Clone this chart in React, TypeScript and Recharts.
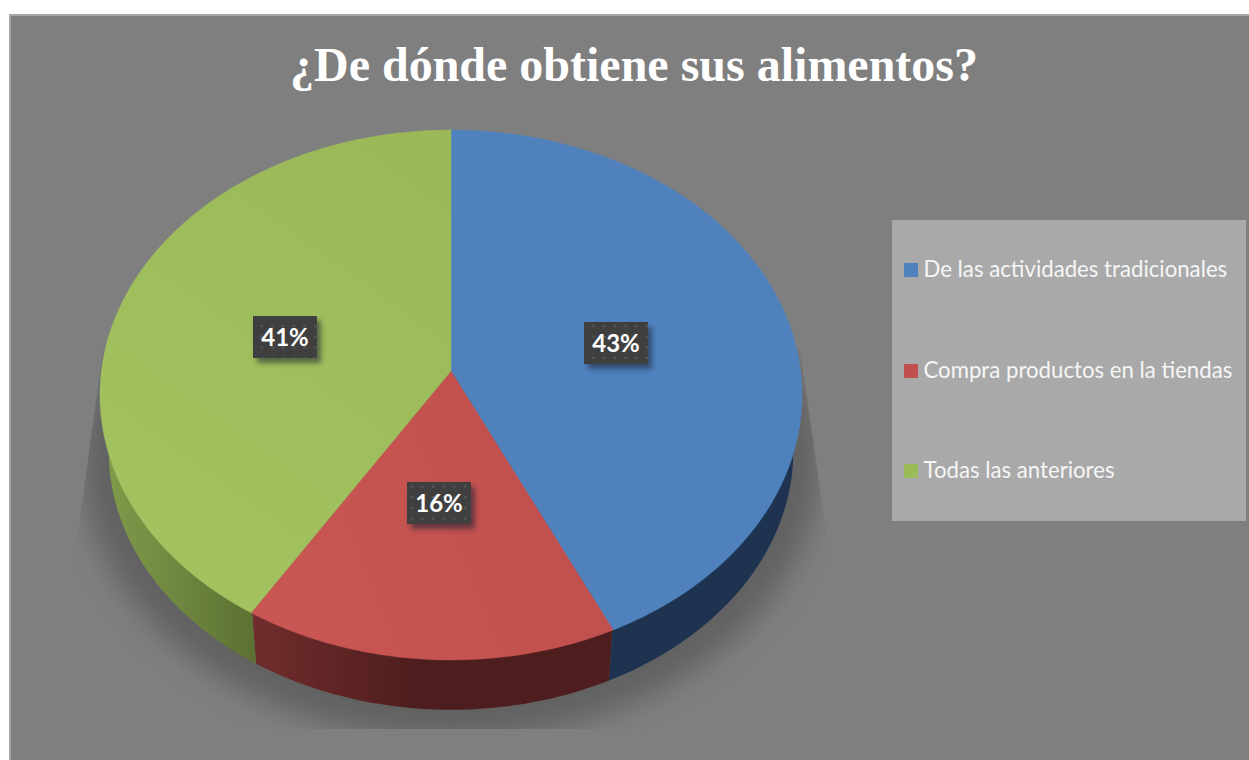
import React from "react";
import { PieChart, Pie, Legend } from "recharts";

const categories = ["De las actividades tradicionales", "Compra productos en la tiendas", "Todas las anteriores"];
const shares = [43, 15.85, 41.15];
const faceFills = ["url(#faceBlue)", "url(#faceRed)", "url(#faceGreen)"];
const sideFills = ["#1e3350", "url(#sideRed)", "url(#sideGreen)"];
const legendColors = ["#4f81bd", "#c0504d", "#9bbb59"];
const labelOffsets = [[165, -28], [-12, 132], [-166, -34]];

const chartData = categories.map((name, i) => ({ name, value: shares[i], face: faceFills[i], side: sideFills[i] }));

const CX = 451;
const CY = 371;
const RX = 349.6;
const RY = 262.8;
const K = 0.0906;
const DEPTH = 57;
const BOTTOM_SCALE = 0.975;

function project(deg: number, cy: number, scale: number): [number, number] {
  const a = (deg * Math.PI) / 180;
  const u = Math.cos(a);
  const v = -Math.sin(a);
  const w = 1 - K * v;
  return [CX + (scale * RX * u) / w, cy + (scale * RY * v) / w];
}

function arc(start: number, end: number, cy: number, scale: number): string[] {
  const n = Math.max(2, Math.ceil(Math.abs(end - start)));
  const pts: string[] = [];
  for (let i = 0; i <= n; i++) {
    const p = project(start + ((end - start) * i) / n, cy, scale);
    pts.push(`${p[0].toFixed(2)} ${p[1].toFixed(2)}`);
  }
  return pts;
}

function FaceShape(props: any) {
  const { startAngle, endAngle, payload } = props;
  const d = `M${CX} ${CY}L${arc(startAngle, endAngle, CY, 1).join("L")}Z`;
  const fill = payload?.face ?? props.face;
  return <path d={d} fill={fill} stroke={fill} strokeWidth={0.4} />;
}

function SideShape(props: any) {
  const { startAngle, endAngle, payload } = props;
  const top = arc(startAngle, endAngle, CY, 0.995);
  const bottom = arc(endAngle, startAngle, CY + DEPTH, BOTTOM_SCALE);
  const fill = payload?.side ?? props.side;
  return <path d={`M${top.join("L")}L${bottom.join("L")}Z`} fill={fill} />;
}

function DataLabel(props: any) {
  const { index, percent } = props;
  const [dx, dy] = labelOffsets[index];
  const x = CX + dx;
  const y = CY + dy;
  return (
    <g>
      <rect x={x - 32} y={y - 21} width={64} height={42} fill="#1c2430" opacity={0.55} transform="translate(4 5)" filter="url(#labelBlur)" />
      <rect x={x - 32} y={y - 21} width={64} height={42} fill="url(#labelDots)" />
      <text x={x} y={y + 9} textAnchor="middle" fontFamily="Lato" fontWeight={700} fontSize={24} fill="#ffffff">
        {`${Math.round(percent * 100)}%`}
      </text>
    </g>
  );
}

function LegendBox(props: any) {
  const items = props.payload ?? [];
  const names = categories.filter((name) => items.some((item: any) => item.value === name));
  return (
    <div style={{ position: "relative", width: 354, height: 301, background: "#a9a9a9" }}>
      {names.map((name: string, i: number) => (
        <div key={name} style={{ position: "absolute", left: 12, top: 43 + i * 100.5, height: 14 }}>
          <span style={{ position: "absolute", left: 0, top: 0, width: 14, height: 14, background: legendColors[i] }} />
          <span style={{ position: "absolute", left: 19.5, top: -7, lineHeight: "26px", fontFamily: "Lato", fontSize: 22.2, color: "#f6f6f6", whiteSpace: "nowrap" }}>{name}</span>
        </div>
      ))}
    </div>
  );
}

const shadowPath = `M${arc(0, 360, CY + 64, 1.05).join("L")}Z`;

export default function App() {
  return (
    <div style={{ position: "absolute", left: 0, top: 0, width: 1249, height: 760, background: "#ffffff", overflow: "hidden" }}>
      <div style={{ position: "absolute", left: 9, top: 14, right: 0, bottom: 0, background: "#7f7f7f", borderLeft: "2px solid #a6a6a6", borderTop: "2px solid #a6a6a6" }} />
      <div style={{ position: "absolute", left: 0, top: 0 }}>
        <PieChart width={1249} height={760} margin={{ top: 0, right: 0, bottom: 0, left: 0 }}>
          <defs>
            <linearGradient id="sideRed" gradientUnits="userSpaceOnUse" x1={257} y1={0} x2={420} y2={0}>
              <stop offset="0" stopColor="#702c2c" />
              <stop offset="1" stopColor="#4e1d1d" />
            </linearGradient>
            <linearGradient id="sideGreen" gradientUnits="userSpaceOnUse" x1={108} y1={0} x2={257} y2={0}>
              <stop offset="0" stopColor="#7f9b4a" />
              <stop offset="1" stopColor="#5c7033" />
            </linearGradient>
            <linearGradient id="faceBlue" gradientUnits="userSpaceOnUse" x1={451} y1={130} x2={451} y2={640}>
              <stop offset="0" stopColor="#4f81bd" />
              <stop offset="1" stopColor="#4f81bd" />
            </linearGradient>
            <linearGradient id="faceRed" gradientUnits="userSpaceOnUse" x1={250} y1={640} x2={610} y2={500}>
              <stop offset="0" stopColor="#c95653" />
              <stop offset="1" stopColor="#c0504d" />
            </linearGradient>
            <linearGradient id="faceGreen" gradientUnits="userSpaceOnUse" x1={150} y1={600} x2={440} y2={200}>
              <stop offset="0" stopColor="#a3c360" />
              <stop offset="1" stopColor="#9bb959" />
            </linearGradient>
            <pattern id="labelDots" patternUnits="userSpaceOnUse" width={10.7} height={10.7}>
              <rect width={10.7} height={10.7} fill="#3f3f3f" />
              <circle cx={5} cy={5} r={1.4} fill="#565656" />
            </pattern>
            <filter id="labelBlur" x="-30%" y="-30%" width="160%" height="160%">
              <feGaussianBlur stdDeviation={2.5} />
            </filter>
            <filter id="shadowBlur" x="-10%" y="-10%" width="120%" height="120%">
              <feGaussianBlur stdDeviation={14} />
            </filter>
            <clipPath id="shadowClip">
              <polygon points="103,350 77,540 77,729 826,729 826,530 800,350" />
            </clipPath>
          </defs>
          <g clipPath="url(#shadowClip)">
            <path d={shadowPath} fill="#626262" filter="url(#shadowBlur)" />
          </g>
          <text x={634} y={80.5} textAnchor="middle" fontFamily="Liberation Serif" fontWeight={700} fontSize={48} fill="#ffffff">
            ¿De dónde obtiene sus alimentos?
          </text>
          <Pie data={chartData} dataKey="value" nameKey="name" cx={CX} cy={CY} outerRadius={RX} startAngle={90} endAngle={-270}
            stroke="none" legendType="none" isAnimationActive={false} shape={SideShape} />
          <Pie data={chartData} dataKey="value" nameKey="name" cx={CX} cy={CY} outerRadius={RX} startAngle={90} endAngle={-270}
            stroke="none" isAnimationActive={false} shape={FaceShape} label={DataLabel} labelLine={false} />
          <Legend content={LegendBox} layout="vertical" verticalAlign="top" align="left"
            wrapperStyle={{ left: 892, top: 220, width: 354, height: 301 }} />
        </PieChart>
      </div>
    </div>
  );
}
